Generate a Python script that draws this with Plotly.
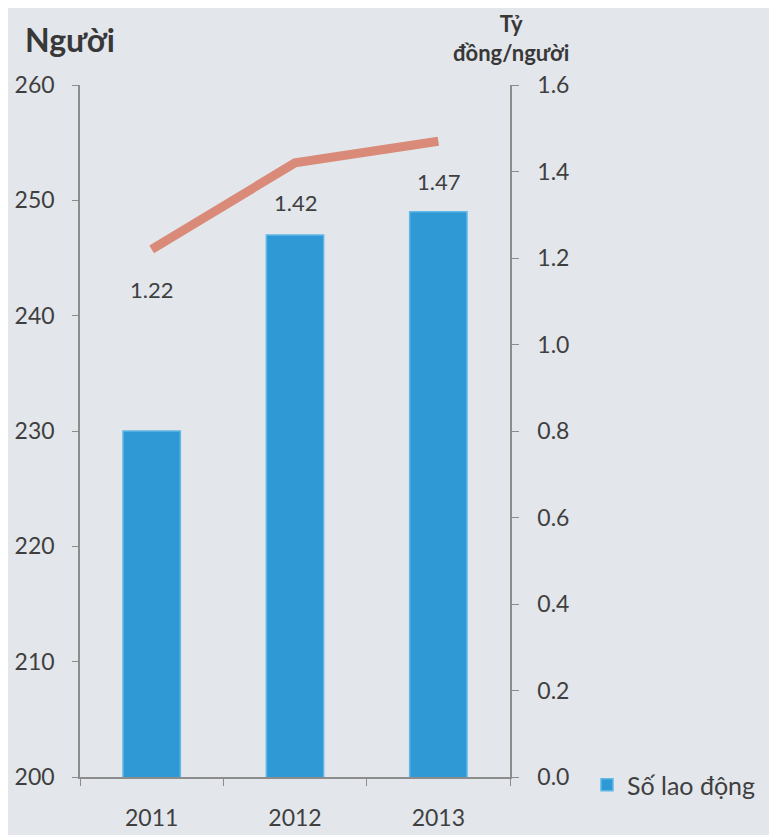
import plotly.graph_objects as go

years = ["2011", "2012", "2013"]
workers = [230, 247, 249]
productivity = [1.22, 1.42, 1.47]
prod_labels = ["1.22", "1.42", "1.47"]

left_ticks = [200, 210, 220, 230, 240, 250, 260]
right_ticks = [0.0, 0.2, 0.4, 0.6, 0.8, 1.0, 1.2, 1.4, 1.6]

bg = "#e3e6eb"
txt = "#3f3f3f"
axis_col = "#8c8c8c"
font_family = "Lato, 'Open Sans', sans-serif"

# page body has an 8px margin; figure sized so plot area lands at x 80-510, y 85-777
W, H = 769, 827
L, R, T, B = 72, 267, 77, 58
plot_w = W - L - R
plot_h = H - T - B


def px_x(x):
    return (x - 8 - L) / plot_w


def px_y(y):
    return (H - B + 8 - y) / plot_h


fig = go.Figure()
fig.add_trace(go.Bar(
    x=years, y=workers, name="Số lao động",
    marker=dict(color="#2e99d5", line=dict(color="#62b8e6", width=1.5)),
    yaxis="y",
))
fig.add_trace(go.Scatter(
    x=years, y=productivity, mode="lines", yaxis="y2",
    line=dict(color="#d98a78", width=9),
    showlegend=False, hoverinfo="skip",
))

# data labels: category serial numbers on the category axis
for i, (v, lab) in enumerate(zip(productivity, prod_labels)):
    fig.add_annotation(x=i, y=v, xref="x", yref="y2", text=lab,
                       showarrow=False, yshift=-40,
                       font=dict(size=22, color=txt, family=font_family))

fig.add_annotation(x=px_x(23), y=px_y(40), xref="paper", yref="paper",
                   xanchor="left", yanchor="middle", text="<b>Người</b>", showarrow=False,
                   font=dict(size=32, color="#383838", family=font_family))
fig.add_annotation(x=px_x(511), y=px_y(38), xref="paper", yref="paper",
                   xanchor="center", yanchor="middle", align="center",
                   text="<b>Tỷ<br>đồng/người</b>", showarrow=False,
                   font=dict(size=22, color="#383838", family=font_family))

fig.update_layout(
    width=W, height=H,
    paper_bgcolor=bg, plot_bgcolor=bg,
    margin=dict(l=L, r=R, t=T, b=B, autoexpand=False),
    font=dict(family=font_family, size=22, color=txt),
    bargap=0.6,
    showlegend=True,
    legend=dict(x=1.179, xanchor="left", y=px_y(785), yanchor="middle",
                bgcolor="rgba(0,0,0,0)", font=dict(size=25, color=txt),
                itemwidth=30),
    xaxis=dict(type="category", showline=True, linecolor=axis_col, linewidth=1.5,
               ticks="outside", tickson="boundaries", ticklen=7, tickcolor=axis_col,
               showgrid=False, tickfont=dict(size=23, color=txt),
               ticklabelstandoff=20, range=[-0.5, 2.5]),
    yaxis=dict(range=[200, 260], tickvals=left_ticks, showline=True,
               linecolor=axis_col, linewidth=1.5, ticks="outside", ticklen=6,
               tickcolor=axis_col, showgrid=False, zeroline=False,
               tickfont=dict(size=23, color=txt), ticklabelstandoff=13),
    yaxis2=dict(range=[0, 1.6], tickvals=right_ticks, tickformat=".1f",
                overlaying="y", side="right", showline=True, linecolor=axis_col,
                linewidth=1.5, ticks="outside", ticklen=7, tickcolor=axis_col,
                showgrid=False, zeroline=False, tickfont=dict(size=23, color=txt),
                ticklabelstandoff=14),
)

fig.write_html("out.html")
